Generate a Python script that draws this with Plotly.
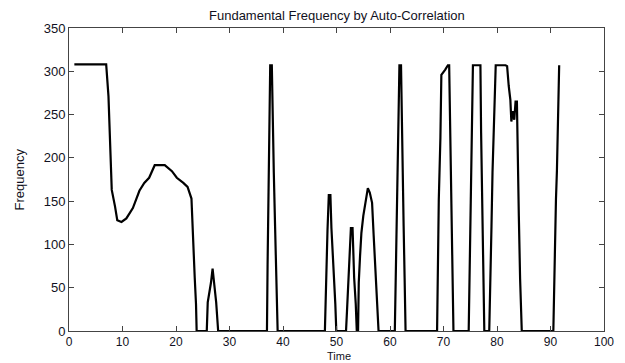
import plotly.graph_objects as go

time = [1, 6.95, 7.38, 7.56, 7.8, 7.99, 8.6, 9.02, 9.81, 10.72, 11.94, 13.16, 14.07, 14.98,
        16.02, 17.9, 19.24, 20.15, 21.37, 22.16, 22.89, 23.07, 23.3, 23.5, 23.74, 23.86,
        25.75, 25.93, 26.54, 26.84, 27.15, 27.51, 27.88,
        37.0, 37.12, 37.31, 37.49, 37.61, 37.91, 38.03, 38.28, 38.52, 38.7, 39.0,
        47.83, 48.07, 48.32, 48.56, 48.86, 49.05, 49.29, 49.53, 49.78, 49.96,
        51.78, 51.96, 52.2, 52.45, 52.69, 53.0, 53.12, 53.3, 53.6, 53.79,
        54.03, 54.16, 54.4, 54.65, 55.01, 55.43, 55.86, 56.22, 56.65, 56.95, 57.26, 57.56, 57.86,
        60.9, 61.09, 61.27, 61.45, 61.64, 61.76, 62.06, 62.18, 62.37, 62.55, 62.73, 62.91,
        68.8, 68.95, 69.12, 69.42, 69.6, 70.33, 70.82, 71.06, 71.25, 71.43, 71.67, 71.86,
        74.71, 74.9, 75.08, 75.26, 75.5, 76.11, 76.9, 77.03, 77.21, 77.45, 77.63,
        78.55, 78.73, 78.97, 79.16, 79.46, 79.76, 81.59, 81.89, 82.19, 82.5, 82.68, 82.99,
        83.23, 83.47, 83.72, 83.84, 84.08, 84.32, 84.63,
        90.53, 90.71, 91.02, 91.2, 91.38, 91.62]

frequency = [308, 308, 271, 235, 200, 163, 144, 128, 126, 130, 142, 162, 171, 177,
             191.5, 191.5, 184.6, 177, 171, 166.5, 153, 121, 94, 61.5, 31, 0,
             0, 33, 56, 72, 54, 33, 0,
             0, 77, 152, 229, 307, 307, 244, 183, 121, 61.5, 0,
             0, 77, 117, 157, 157, 119, 94, 61.5, 31, 0,
             0, 23, 61.5, 94, 119, 119, 94, 61.5, 31, 0,
             0, 56, 86.5, 113, 133, 150, 165, 160, 148, 110, 73, 36.5, 0,
             0, 61.5, 121, 183, 244, 307, 307, 244, 183, 121, 61.5, 0,
             0, 73, 152, 223, 296, 302, 307, 307, 231, 152, 77, 0,
             0, 73, 152, 229, 307, 307, 307, 229, 152, 73, 0,
             0, 73, 121, 183, 248, 307, 307, 306, 283, 267, 242, 254,
             244, 265, 265, 200, 133, 60, 0,
             0, 73, 152, 185, 244, 307]

x_ticks = list(range(0, 101, 10))
y_ticks = list(range(0, 351, 50))

fig = go.Figure()
fig.add_trace(go.Scatter(x=time, y=frequency, mode="lines",
                         line=dict(color="black", width=2.2), showlegend=False))

font = dict(family="Liberation Sans, Arial, sans-serif", size=13, color="#111122")
xfont = dict(family="Liberation Sans, Arial, sans-serif", size=12, color="#111122")
axis_common = dict(showgrid=False, zeroline=False, showline=True, linecolor="#444444",
                   linewidth=1, mirror="ticks", ticks="inside", ticklen=5,
                   tickcolor="#444444")

fig.update_layout(
    width=625, height=363,
    margin=dict(l=69, r=11, t=28, b=32),
    paper_bgcolor="white", plot_bgcolor="white",
    xaxis=dict(range=[0, 100], tickvals=x_ticks, tickfont=xfont, **axis_common),
    yaxis=dict(range=[0, 350], tickvals=y_ticks, tickfont=font, **axis_common),
    annotations=[
        dict(text="Fundamental Frequency by Auto-Correlation", xref="paper", yref="paper",
             x=0.5, y=1, yshift=3, xanchor="center", yanchor="bottom", showarrow=False,
             font=dict(family="Liberation Sans, Arial, sans-serif", size=13, color="#111122")),
        dict(text="Time", xref="paper", yref="paper", x=0.5, y=0, yshift=-32, borderpad=0,
             xanchor="center", yanchor="bottom", showarrow=False, xshift=2,
             font=dict(family="Liberation Sans, Arial, sans-serif", size=11, color="#111122")),
        dict(text="Frequency", xref="paper", yref="paper", x=0, xshift=-50, y=0.5,
             xanchor="center", yanchor="middle", textangle=-90, showarrow=False, font=font),
    ],
)

fig.write_html("out.html")
